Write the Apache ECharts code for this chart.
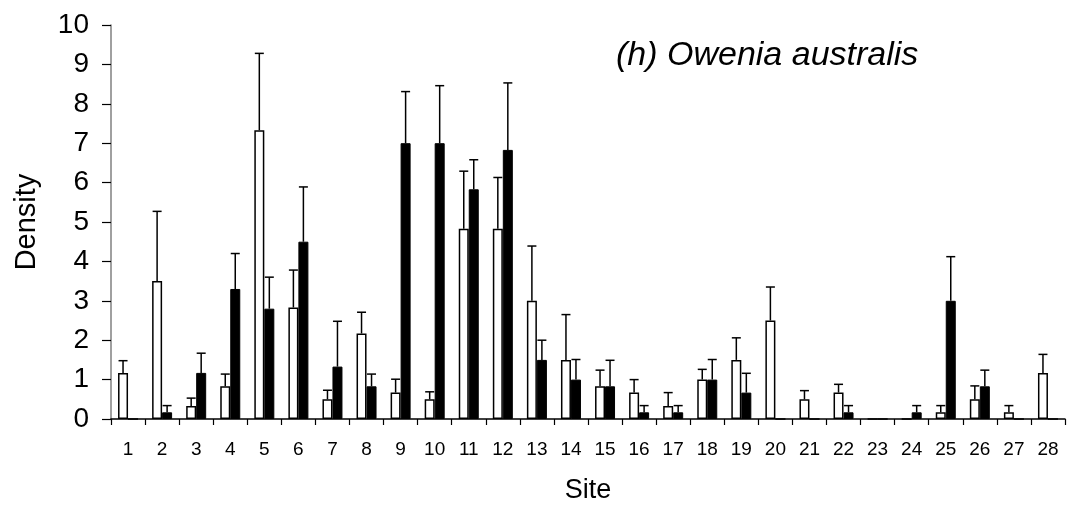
<!DOCTYPE html>
<html>
<head>
<meta charset="utf-8">
<script src="https://cdn.jsdelivr.net/npm/echarts@6/dist/echarts.min.js"></script>
<style>html,body{margin:0;padding:0;background:#fff;}#chart{width:1068px;height:509px;}</style>
</head>
<body>
<div id="chart"></div>
<script>
const sites = ['1','2','3','4','5','6','7','8','9','10','11','12','13','14','15','16','17','18','19','20','21','22','23','24','25','26','27','28'];
const yTicks = [0,1,2,3,4,5,6,7,8,9,10];
const whiteMean = [1.17,3.5,0.33,0.83,7.33,2.83,0.5,2.17,0.67,0.5,4.83,4.83,3.0,1.5,0.83,0.67,0.33,1.0,1.5,2.5,0.5,0.67,0,0,0.17,0.5,0.17,1.17];
const whiteTop  = [1.48,5.27,0.53,1.14,9.28,3.78,0.73,2.71,1.01,0.69,6.29,6.13,4.39,2.65,1.24,1.0,0.67,1.26,2.06,3.35,0.72,0.88,0,0,0.34,0.84,0.34,1.64];
const blackMean = [0,0.17,1.17,3.3,2.8,4.5,1.33,0.83,7.0,7.0,5.83,6.83,1.5,1.0,0.83,0.17,0.17,1.0,0.67,0,0,0.17,0,0.17,3.0,0.83,0,0];
const blackTop  = [0,0.34,1.67,4.2,3.6,5.89,2.48,1.14,8.31,8.46,6.58,8.53,2.0,1.51,1.49,0.34,0.34,1.51,1.16,0,0,0.34,0,0.34,4.12,1.24,0,0];

const FONT = 'Liberation Sans, Arial, sans-serif';
const BAR_W = 10;

function errSeries(means, tops, offset) {
  const data = means.map((m, i) => [i, m, tops[i]]);
  return {
    type: 'custom',
    z: 5,
    silent: true,
    data: data,
    encode: { x: 0, y: [1, 2] },
    renderItem: function (params, api) {
      const i = api.value(0), m = api.value(1), t = api.value(2);
      if (!(t > m)) return null;
      const p0 = api.coord([i, m]);
      const p1 = api.coord([i, t]);
      const x = p0[0] + offset;
      const cap = 4.5;
      return {
        type: 'group',
        children: [
          { type: 'line', shape: { x1: x, y1: p0[1], x2: x, y2: p1[1] }, style: { stroke: '#000', lineWidth: 1.5 } },
          { type: 'line', shape: { x1: x - cap, y1: p1[1], x2: x + cap, y2: p1[1] }, style: { stroke: '#000', lineWidth: 1.5 } }
        ]
      };
    }
  };
}

const chart = echarts.init(document.getElementById('chart'), null, { renderer: 'canvas' });
chart.setOption({
  animation: false,
  backgroundColor: '#fff',
  title: {
    text: '(h) Owenia australis',
    left: 611, top: 34,
    textStyle: { fontFamily: FONT, fontStyle: 'italic', fontWeight: 'normal', fontSize: 34, color: '#000' }
  },
  grid: { left: 111, right: 3, top: 25, bottom: 88, containLabel: false },
  xAxis: {
    type: 'category',
    data: sites,
    name: 'Site',
    nameLocation: 'middle',
    nameGap: 58,
    nameTextStyle: { fontFamily: FONT, fontSize: 27, color: '#000' },
    axisLine: { lineStyle: { color: '#000', width: 1.5 } },
    axisTick: { show: true, length: 6, lineStyle: { color: '#000', width: 1.2 } },
    axisLabel: { fontFamily: FONT, fontSize: 19, color: '#000', margin: 21 }
  },
  yAxis: {
    type: 'value',
    min: 0, max: 10, interval: 1,
    name: 'Density',
    nameLocation: 'middle',
    nameGap: 70,
    nameTextStyle: { fontFamily: FONT, fontSize: 29, color: '#000' },
    axisLine: { show: true, lineStyle: { color: '#808080', width: 1.5 } },
    axisTick: { show: true, length: 9, lineStyle: { color: '#000', width: 1.2 } },
    axisLabel: { fontFamily: FONT, fontSize: 28, color: '#000', margin: 22,
      formatter: v => yTicks.includes(v) ? String(v) : '' },
    splitLine: { show: false }
  },
  series: [
    { type: 'bar', data: whiteMean, barWidth: BAR_W, barGap: '0%',
      itemStyle: { color: '#fff', borderColor: '#000', borderWidth: 1.5 } },
    { type: 'bar', data: blackMean, barWidth: BAR_W, barGap: '0%',
      itemStyle: { color: '#000', borderColor: '#000', borderWidth: 1 } },
    errSeries(whiteMean, whiteTop, -BAR_W / 2),
    errSeries(blackMean, blackTop, BAR_W / 2)
  ]
});
</script>
</body>
</html>
